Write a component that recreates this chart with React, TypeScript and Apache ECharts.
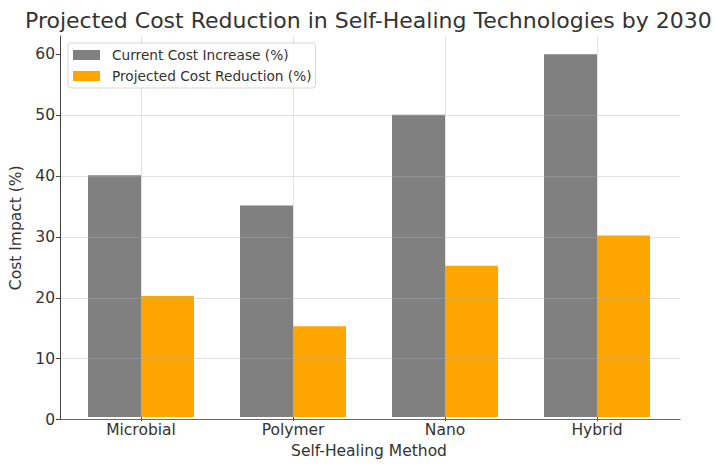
import React, { useEffect, useRef } from "react";
import * as echarts from "echarts";

// Chart data
const categories = ["Microbial", "Polymer", "Nano", "Hybrid"];
const currentCostIncrease = [40, 35, 50, 60];
const projectedCostReduction = [20, 15, 25, 30];
const yTicks = [0, 10, 20, 30, 40, 50, 60];

const FONT = "DejaVu Sans";
const TEXT = "#333333";
const SPINE = "#444444";
const GRID_LINE = "rgba(176,176,176,0.35)";

export default function App() {
  const ref = useRef<HTMLDivElement>(null);

  useEffect(() => {
    if (!ref.current) return;
    const chart = echarts.init(ref.current, undefined, { renderer: "svg" });

    const option: echarts.EChartsOption = {
      animation: false,
      backgroundColor: "#ffffff",
      textStyle: { fontFamily: FONT },
      title: {
        text: "Projected Cost Reduction in Self-Healing Technologies by 2030",
        left: 25,
        top: 4,
        padding: [5, 0, 5, 0],
        textStyle: { fontFamily: FONT, fontSize: 22, fontWeight: "normal", color: TEXT },
      },
      legend: {
        orient: "vertical",
        left: 68,
        top: 43,
        padding: [5, 4, 5, 5],
        itemGap: 7,
        itemWidth: 27,
        itemHeight: 10,
        icon: "rect",
        backgroundColor: "rgba(255,255,255,0.85)",
        borderColor: "#d6d6d6",
        borderWidth: 1,
        borderRadius: 3,
        z: 10,
        textStyle: { fontFamily: FONT, fontSize: 13.7, color: TEXT, padding: [0, 0, 0, 7] },
        data: ["Current Cost Increase (%)", "Projected Cost Reduction (%)"],
      },
      grid: [
        // bars
        { left: 65, right: 42, top: 36, bottom: 44.5 },
        // frame: spines, y ticks and horizontal grid lines
        { left: 60, right: 35, top: 36, bottom: 44.5 },
      ],
      xAxis: [
        {
          type: "category",
          gridIndex: 0,
          data: categories,
          axisLine: { show: false },
          axisTick: { show: true, alignWithLabel: true, length: 4, lineStyle: { color: SPINE } },
          axisLabel: { fontFamily: FONT, fontSize: 15.5, color: TEXT, margin: 5 },
          splitLine: { show: false },
          name: "Self-Healing Method",
          nameLocation: "middle",
          nameGap: 23,
          nameTextStyle: { fontFamily: FONT, fontSize: 15.5, color: TEXT },
        },
        {
          type: "value",
          gridIndex: 1,
          min: 0,
          max: 1,
          axisLine: { show: true, onZero: false, lineStyle: { color: SPINE, width: 1 } },
          axisTick: { show: false },
          axisLabel: { show: false },
          splitLine: { show: false },
        },
      ],
      yAxis: [
        {
          type: "value",
          gridIndex: 0,
          min: 0,
          max: 63,
          show: false,
        },
        {
          type: "value",
          gridIndex: 1,
          min: 0,
          max: 63,
          interval: 10,
          z: 5,
          axisLine: { show: true, lineStyle: { color: SPINE, width: 1 } },
          axisTick: {
            show: true,
            length: 4,
            customValues: yTicks,
            lineStyle: { color: SPINE },
          },
          axisLabel: {
            fontFamily: FONT,
            fontSize: 15.5,
            color: TEXT,
            margin: 5,
            customValues: yTicks,
          },
          splitLine: {
            show: true,
            showMaxLine: false,
            lineStyle: { color: GRID_LINE, width: 1 },
          },
          name: "Cost Impact (%)",
          nameLocation: "middle",
          nameGap: 33,
          nameTextStyle: { fontFamily: FONT, fontSize: 15.5, color: TEXT },
        },
      ],
      series: [
        {
          name: "Current Cost Increase (%)",
          type: "bar",
          xAxisIndex: 0,
          yAxisIndex: 0,
          data: currentCostIncrease,
          barWidth: 53,
          barGap: "0%",
          itemStyle: { color: "#808080" },
        },
        {
          name: "Projected Cost Reduction (%)",
          type: "bar",
          xAxisIndex: 0,
          yAxisIndex: 0,
          data: projectedCostReduction,
          barWidth: 53,
          barGap: "0%",
          itemStyle: { color: "#FFA500" },
        },
        {
          // vertical grid lines at the category centres, drawn above the bars
          name: "category-grid",
          type: "line",
          xAxisIndex: 0,
          yAxisIndex: 0,
          data: [],
          showSymbol: false,
          silent: true,
          markLine: {
            silent: true,
            symbol: "none",
            z: 5,
            label: { show: false },
            lineStyle: { color: GRID_LINE, type: "solid", width: 1 },
            data: categories.map((c) => ({ xAxis: c })),
          },
        },
      ],
    };

    chart.setOption(option);
    return () => chart.dispose();
  }, []);

  return (
    <div
      ref={ref}
      style={{ position: "fixed", left: 0, top: 0, width: 715, height: 464, background: "#fff" }}
    />
  );
}
